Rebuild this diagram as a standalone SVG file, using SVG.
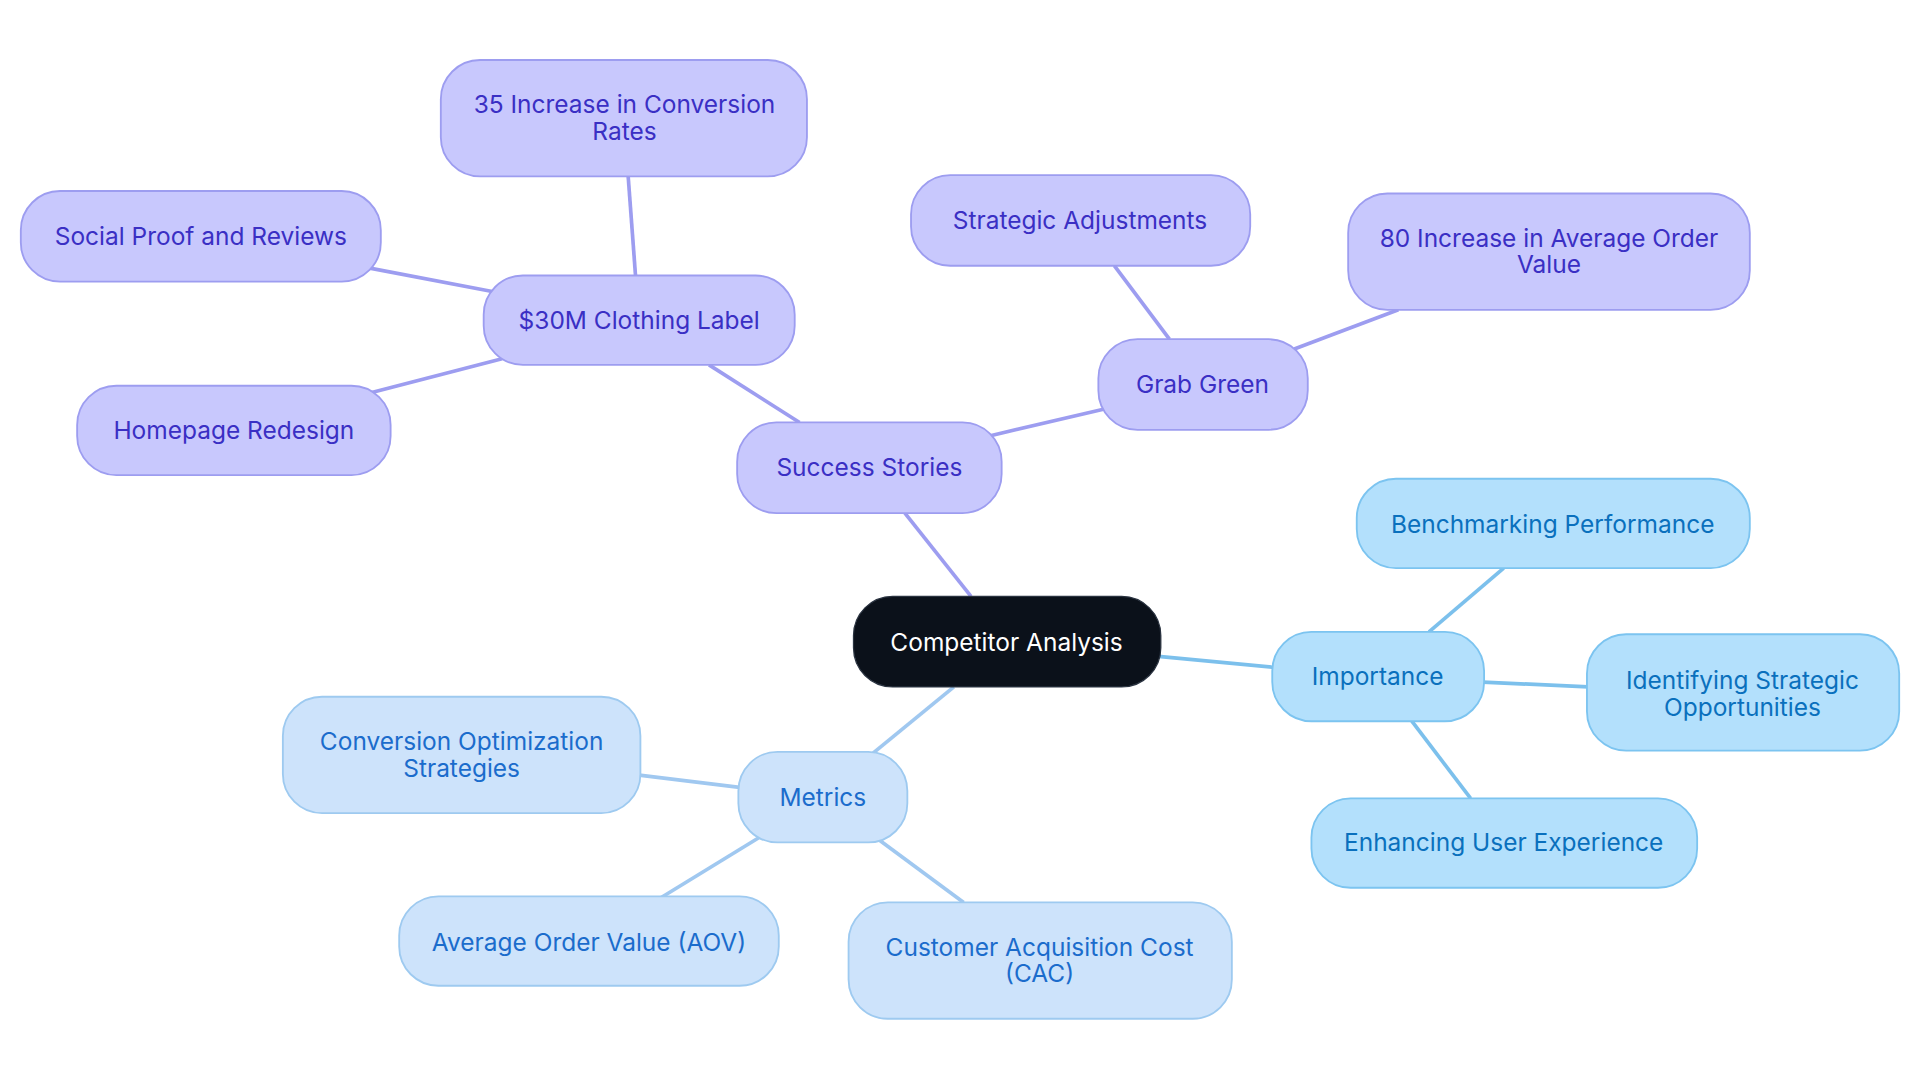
<svg xmlns="http://www.w3.org/2000/svg" width="1920" height="1083" viewBox="0 0 1920 1083">
<style>
text{font-family:Inter,"Noto Sans",sans-serif;font-size:20px;text-anchor:middle;dominant-baseline:central}
.p rect{fill:#c8c8fd;stroke:#9d9df0;stroke-width:1.5}
.p text{fill:#3a2fc4}
.i rect{fill:#b3e0fc;stroke:#7cc4f0;stroke-width:1.5}
.i text{fill:#0a70bd}
.m rect{fill:#cde3fb;stroke:#9ecaf0;stroke-width:1.5}
.m text{fill:#1b6ccc}
.ep{stroke:#9d9df0;stroke-width:3}
.ei{stroke:#7cc0ec;stroke-width:3}
.em{stroke:#a0c8f0;stroke-width:3}
</style>
<rect width="1920" height="1083" fill="#fff"/>
<g transform="scale(1.2245)">
<g id="connectors">
<line class="ep" x1="793" y1="487" x2="739" y2="419"/>
<line class="ep" x1="653" y1="345" x2="579" y2="298"/>
<line class="ep" x1="519" y1="225" x2="513" y2="144"/>
<line class="ep" x1="402" y1="238" x2="302" y2="219"/>
<line class="ep" x1="410" y1="293" x2="302" y2="321"/>
<line class="ep" x1="808" y1="356" x2="902" y2="334"/>
<line class="ep" x1="955" y1="277" x2="910" y2="217"/>
<line class="ep" x1="1057" y1="285" x2="1142" y2="253"/>
<line class="ei" x1="946" y1="536" x2="1040" y2="545"/>
<line class="ei" x1="1167" y1="516" x2="1228" y2="464"/>
<line class="ei" x1="1211" y1="557" x2="1297" y2="561"/>
<line class="ei" x1="1153" y1="589" x2="1201" y2="652"/>
<line class="em" x1="779" y1="561" x2="713" y2="615"/>
<line class="em" x1="604" y1="643" x2="522" y2="633"/>
<line class="em" x1="620" y1="684" x2="540" y2="733"/>
<line class="em" x1="718" y1="686" x2="787" y2="737"/>
</g>
<g id="competitor"><rect x="697" y="487" width="251" height="74" rx="32" fill="#0b111a" stroke="#2a3340"/><text x="822" y="524" fill="#fff">Competitor Analysis</text></g>
<g id="success" class="p"><rect x="602" y="345" width="216" height="74" rx="32"/><text x="710" y="381">Success Stories</text></g>
<g id="clothing" class="p"><rect x="395" y="225" width="254" height="73" rx="32"/><text x="522" y="261">$30M Clothing Label</text></g>
<g id="conv35" class="p"><rect x="360" y="49" width="299" height="95" rx="32"/><text x="510" y="85">35 Increase in Conversion</text><text x="510" y="107">Rates</text></g>
<g id="social" class="p"><rect x="17" y="156" width="294" height="74" rx="32"/><text x="164" y="193">Social Proof and Reviews</text></g>
<g id="homepage" class="p"><rect x="63" y="315" width="256" height="73" rx="32"/><text x="191" y="351">Homepage Redesign</text></g>
<g id="grab" class="p"><rect x="897" y="277" width="171" height="74" rx="32"/><text x="982" y="314">Grab Green</text></g>
<g id="strategic" class="p"><rect x="744" y="143" width="277" height="74" rx="32"/><text x="882" y="180">Strategic Adjustments</text></g>
<g id="aov80" class="p"><rect x="1101" y="158" width="328" height="95" rx="32"/><text x="1265" y="194">80 Increase in Average Order</text><text x="1265" y="216">Value</text></g>
<g id="importance" class="i"><rect x="1039" y="516" width="173" height="73" rx="32"/><text x="1125" y="552">Importance</text></g>
<g id="bench" class="i"><rect x="1108" y="391" width="321" height="73" rx="32"/><text x="1268" y="428">Benchmarking Performance</text></g>
<g id="ident" class="i"><rect x="1296" y="518" width="255" height="95" rx="32"/><text x="1423" y="555">Identifying Strategic</text><text x="1423" y="577">Opportunities</text></g>
<g id="enh" class="i"><rect x="1071" y="652" width="315" height="73" rx="32"/><text x="1228" y="688">Enhancing User Experience</text></g>
<g id="metrics" class="m"><rect x="603" y="614" width="138" height="74" rx="32"/><text x="672" y="651">Metrics</text></g>
<g id="convopt" class="m"><rect x="231" y="569" width="292" height="95" rx="32"/><text x="377" y="605">Conversion Optimization</text><text x="377" y="627">Strategies</text></g>
<g id="aov" class="m"><rect x="326" y="732" width="310" height="73" rx="32"/><text x="481" y="769">Average Order Value (AOV)</text></g>
<g id="cac" class="m"><rect x="693" y="737" width="313" height="95" rx="32"/><text x="849" y="773">Customer Acquisition Cost</text><text x="849" y="795">(CAC)</text></g>
</g>
</svg>
